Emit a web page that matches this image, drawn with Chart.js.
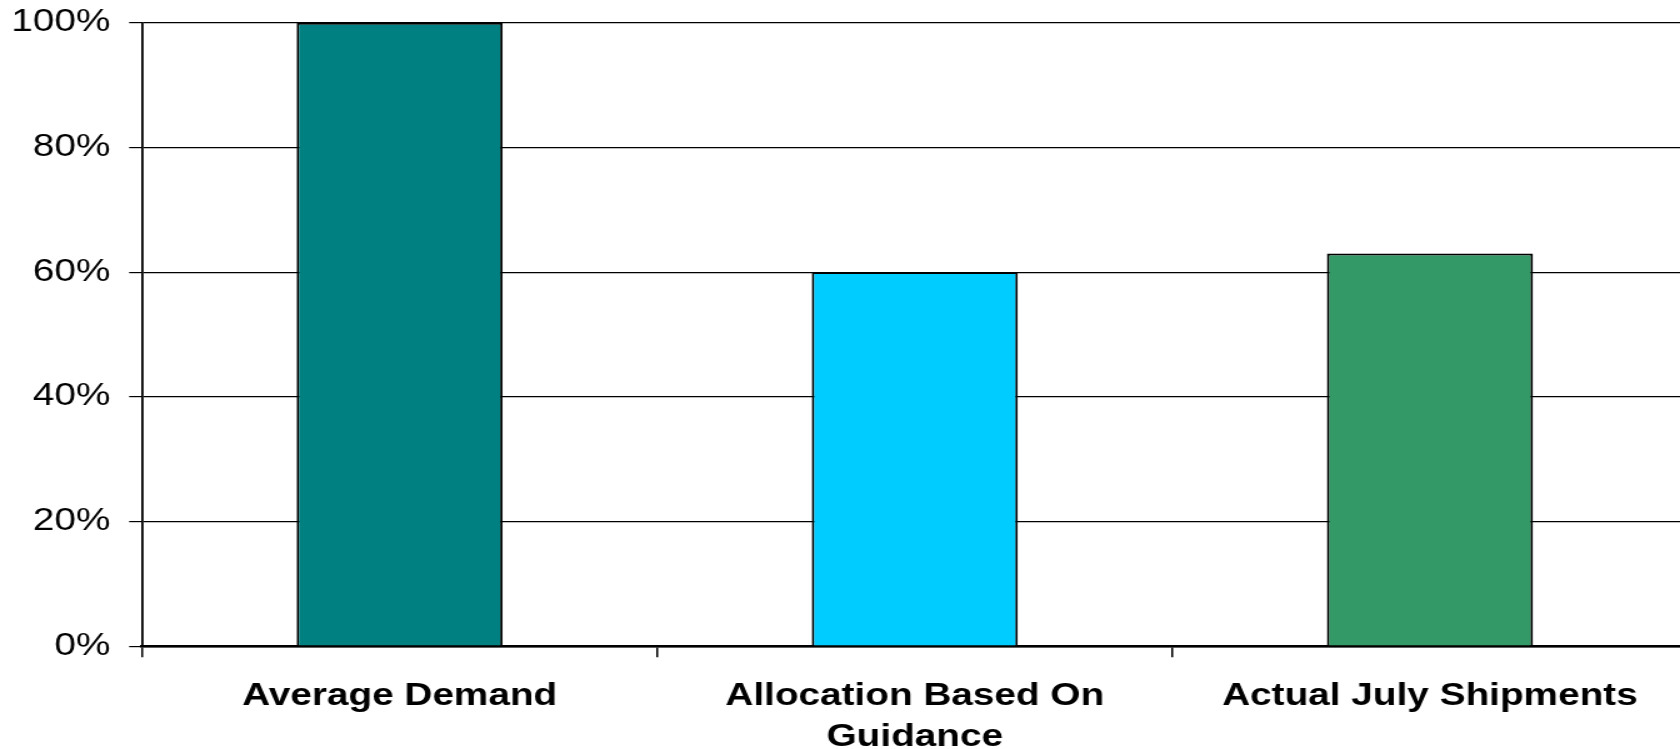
<!DOCTYPE html>
<html>
<head>
<meta charset="utf-8">
<script src="https://cdn.jsdelivr.net/npm/chart.js@4"></script>
<style>
  html, body { margin: 0; padding: 0; background: #fff; overflow: hidden; }
  #wrap {
    position: absolute; left: 0; top: 0;
    width: 1350px; height: 749px;
    transform: scaleX(1.25); transform-origin: 0 0;
  }
</style>
</head>
<body>
<div id="wrap"><canvas id="chart"></canvas></div>
<script>
// Share of average demand, by measure
const categories = ['Average Demand', ['Allocation Based On', 'Guidance'], 'Actual July Shipments'];
const shareOfDemand = [100, 60, 63];
const barColors = ['#008080', '#00CCFF', '#339966'];
const yTicks = [0, 20, 40, 60, 80, 100];

new Chart(document.getElementById('chart'), {
  type: 'bar',
  data: {
    labels: categories,
    datasets: [{
      data: shareOfDemand,
      backgroundColor: barColors,
      borderColor: '#000',
      borderWidth: 2,
      barPercentage: 0.4,
      categoryPercentage: 1.0
    }]
  },
  options: {
    responsive: true,
    maintainAspectRatio: false,
    animation: false,
    layout: { padding: { left: -6, right: 0, top: 0, bottom: -28 } },
    plugins: { legend: { display: false }, tooltip: { enabled: false } },
    scales: {
      x: {
        border: { display: true, color: '#000', width: 2.5 },
        grid: { display: true, drawOnChartArea: false, drawTicks: true, tickLength: 11, color: '#000', lineWidth: 1.5, offset: true },
        ticks: {
          color: '#000',
          padding: 19,
          maxRotation: 0,
          autoSkip: false,
          font: { family: '"Liberation Sans", Arial, sans-serif', size: 31, weight: 'bold', lineHeight: 1.32 }
        }
      },
      y: {
        min: yTicks[0],
        max: yTicks[yTicks.length - 1],
        afterBuildTicks: (axis) => { axis.ticks = yTicks.map(v => ({ value: v })); },
        border: { display: true, color: '#000', width: 1.8 },
        grid: { color: '#000', lineWidth: 1.2, drawTicks: true, tickLength: 10.4 },
        ticks: {
          color: '#000',
          padding: 15,
          callback: (v) => v + '%',
          font: { family: '"Liberation Sans", Arial, sans-serif', size: 31, lineHeight: 0.5 }
        }
      }
    }
  }
});
</script>
</body>
</html>
